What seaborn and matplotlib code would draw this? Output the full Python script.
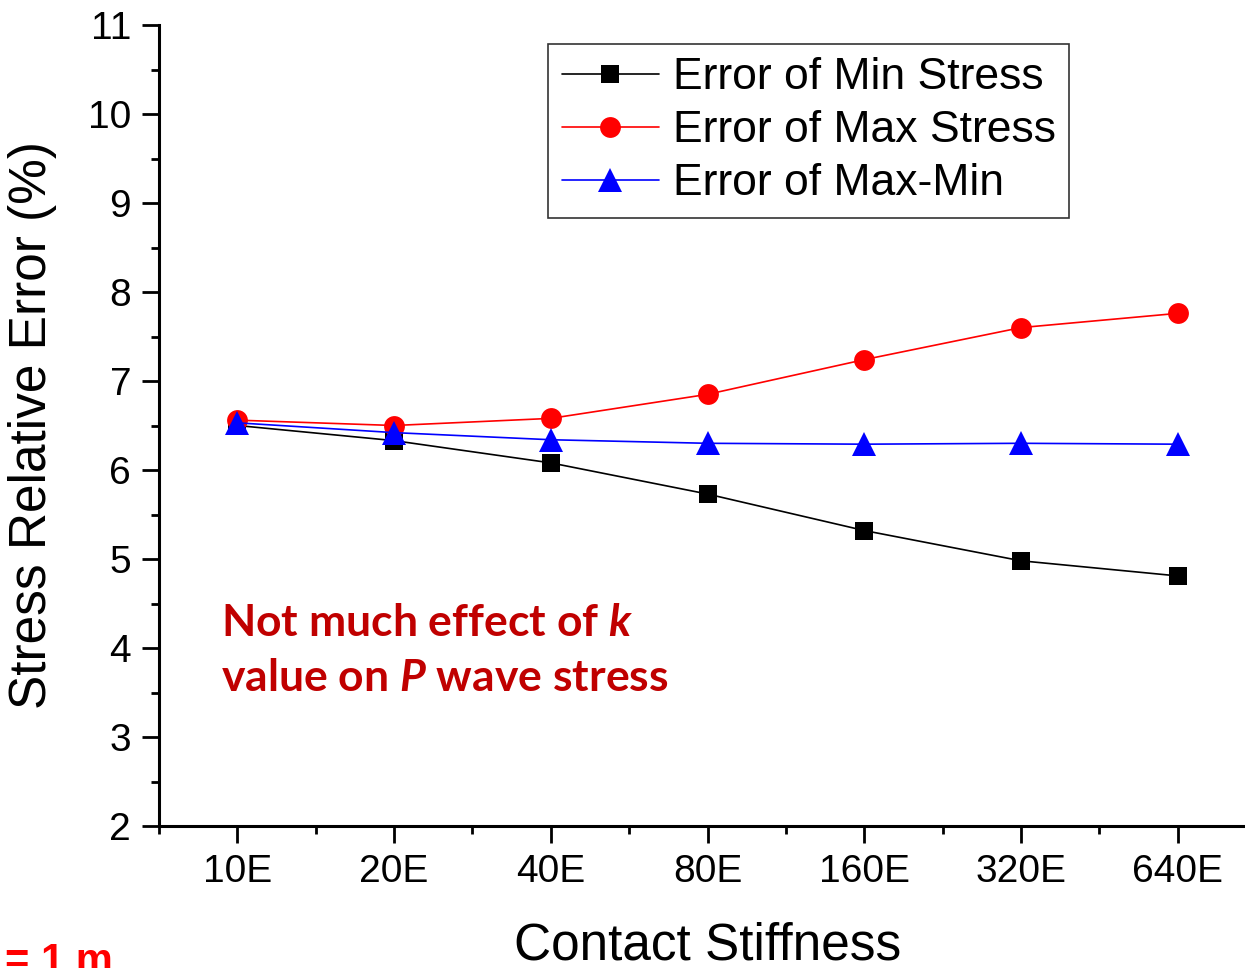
import matplotlib
matplotlib.use("Agg")
import matplotlib.pyplot as plt
from matplotlib.ticker import FixedLocator, MultipleLocator
import seaborn as sns
import pandas as pd

# -------------------
# Data
# -------------------
stiffness = ["10E", "20E", "40E", "80E", "160E", "320E", "640E"]
err_min_stress = [6.50, 6.33, 6.08, 5.73, 5.32, 4.98, 4.81]
err_max_stress = [6.56, 6.50, 6.58, 6.85, 7.24, 7.60, 7.76]
err_max_min = [6.53, 6.42, 6.34, 6.30, 6.29, 6.30, 6.29]

series_names = ["Error of Min Stress", "Error of Max Stress", "Error of Max-Min"]
series_values = [err_min_stress, err_max_stress, err_max_min]
series_colors = ["black", "red", "blue"]
series_markers = ["s", "o", "^"]
series_msize = [13, 15, 17]

sns.set_style("ticks")
plt.rcParams["font.family"] = ["Liberation Sans", "DejaVu Sans"]
plt.rcParams["text.color"] = "black"
plt.rcParams["axes.labelcolor"] = "black"
plt.rcParams["xtick.color"] = "black"
plt.rcParams["ytick.color"] = "black"
plt.rcParams["mathtext.fontset"] = "custom"
plt.rcParams["mathtext.bfit"] = "Lato:bold:italic"
plt.rcParams["mathtext.bf"] = "Lato:bold"
plt.rcParams["mathtext.rm"] = "Lato:bold"

fig = plt.figure(figsize=(12.45, 9.68), dpi=100)
ax = fig.add_axes([159 / 1245, 1 - 826 / 968, 1097 / 1245, 801 / 968])

for name, vals, col, mk, ms in zip(series_names, series_values, series_colors,
                                   series_markers, series_msize):
    df = pd.DataFrame({"k": stiffness, "err": vals})
    sns.lineplot(data=df, x="k", y="err", ax=ax, color=col, marker=mk,
                 markersize=ms, markeredgewidth=0, linewidth=1.2, label=name,
                 sort=False)

# axes ranges / ticks
ax.set_xlim(-0.5, len(stiffness) - 0.5)
ax.set_ylim(2, 11)
ax.xaxis.set_major_locator(FixedLocator(range(len(stiffness))))
ax.set_xticklabels(stiffness)
ax.xaxis.set_minor_locator(FixedLocator([i - 0.5 for i in range(len(stiffness) + 1)]))
ax.yaxis.set_major_locator(MultipleLocator(1))
ax.yaxis.set_minor_locator(MultipleLocator(0.5))

ax.tick_params(axis="both", which="major", length=12, width=2, labelsize=28,
               direction="out", pad=8, color="black", labelcolor="black")
ax.tick_params(axis="both", which="minor", length=6, width=2, direction="out",
               color="black")

for s in ["top", "right"]:
    ax.spines[s].set_visible(False)
for s in ["left", "bottom"]:
    ax.spines[s].set_linewidth(2.2)
    ax.spines[s].set_color("black")

ax.set_xlabel("Contact Stiffness", fontsize=37, labelpad=23)
ax.set_ylabel("Stress Relative Error (%)", fontsize=37)
ax.yaxis.set_label_coords(-0.093, 0.5)

# Legend
leg = ax.legend(loc="upper right", bbox_to_anchor=(1069 / 1245, 1 - 44 / 968),
                bbox_transform=fig.transFigure, borderaxespad=0, fontsize=32,
                frameon=True, fancybox=False, edgecolor="black",
                handlelength=2.2, labelspacing=0.27, borderpad=0.3,
                handletextpad=0.3)
leg.get_frame().set_linewidth(1.2)

# Annotation
ax.text(0.0565, 0.278, "Not much effect of $\\mathbfit{k}$\nvalue on $\\mathbfit{P}$ wave stress",
        transform=ax.transAxes, fontsize=32, color="#C00000", fontfamily="Lato",
        fontweight="bold", va="top", ha="left", linespacing=1.45)

fig.text(5 / 1245, 1 - 942 / 968, "= 1 m", fontsize=30, color="red",
         fontweight="bold", va="top", ha="left")

fig.savefig("out.png", dpi=100)
